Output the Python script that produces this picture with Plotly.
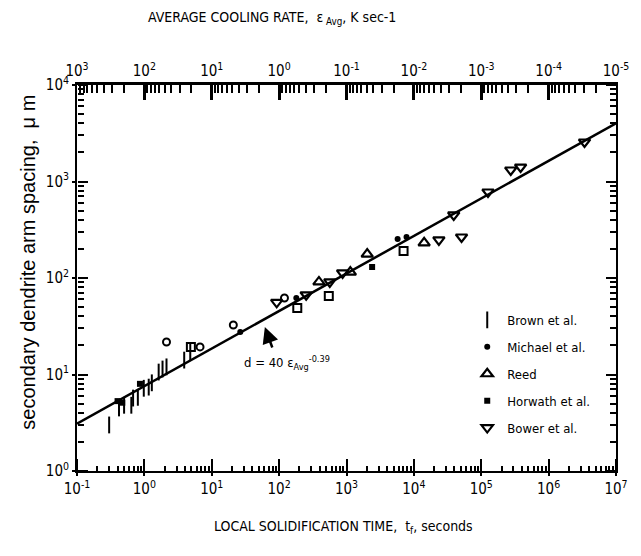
import plotly.graph_objects as go

# ---------------- data ----------------
brown_t = [0.30, 0.42, 0.50, 0.64, 0.68, 0.80, 0.98, 1.16, 1.29, 1.63, 1.86, 2.13, 3.9, 4.8]
brown_d = [3.0, 4.5, 4.8, 4.8, 5.7, 5.8, 7.2, 7.4, 8.2, 10.6, 11.4, 12.0, 14.1, 17.1]

michael_t = [26.5, 180, 5740, 7780]
michael_d = [27.5, 62, 254, 266]
michael_open_t = [2.13, 6.7, 20.9, 120]
michael_open_d = [21.7, 19.3, 32.6, 62]

reed_t = [390, 1140, 2030, 14200]
reed_d = [91, 115, 177, 231]

horwath_t = [0.40, 0.47, 0.86, 2400]
horwath_d = [5.3, 5.1, 8.0, 130]
horwath_open_t = [4.9, 186, 546, 7030]
horwath_open_d = [19.3, 49, 65, 191]

bower_t = [92, 252, 565, 875, 23500, 51000, 39000, 126000, 274000, 384000, 3.41e6]
bower_d = [56, 67, 91, 113, 248, 266, 450, 778, 1315, 1412, 2565]

# fit line d = 40 * eps_avg^-0.39 given against cooling rate eps (top axis)
fit_eps = [1e3, 1e-5]
fit_d = [3.1, 4000]

x_ticks = [1e-1, 1e0, 1e1, 1e2, 1e3, 1e4, 1e5, 1e6, 1e7]
x_ticktext = ["10<sup>-1</sup>", "10<sup>0</sup>", "10<sup>1</sup>", "10<sup>2</sup>", "10<sup>3</sup>",
              "10<sup>4</sup>", "10<sup>5</sup>", "10<sup>6</sup>", "10<sup>7</sup>"]
top_ticks = [1e3, 1e2, 1e1, 1e0, 1e-1, 1e-2, 1e-3, 1e-4, 1e-5]
top_ticktext = ["10<sup>3</sup>", "10<sup>2</sup>", "10<sup>1</sup>", "10<sup>0</sup>", "10<sup>-1</sup>",
                "10<sup>-2</sup>", "10<sup>-3</sup>", "10<sup>-4</sup>", "10<sup>-5</sup>"]
y_ticks = [1e0, 1e1, 1e2, 1e3, 1e4]
y_ticktext = ["10<sup>0</sup>", "10<sup>1</sup>", "10<sup>2</sup>", "10<sup>3</sup>", "10<sup>4</sup>"]

NARROW = "DejaVu Sans Condensed, Liberation Sans Narrow, Liberation Sans, Arial, sans-serif"
SANS = "Liberation Sans, Arial, sans-serif"
BLACK = "black"

fig = go.Figure()

fig.add_trace(go.Scatter(x=fit_eps, y=fit_d, mode="lines", xaxis="x2", yaxis="y",
                         line=dict(color=BLACK, width=2.5),
                         showlegend=False, hoverinfo="skip"))


def add_markers(xs, ys, name, group, marker, show=True, xa="x", ya="y"):
    fig.add_trace(go.Scatter(x=xs, y=ys, mode="markers", name=name, legendgroup=group,
                             showlegend=show, xaxis=xa, yaxis=ya, marker=marker))


add_markers(brown_t, brown_d, "Brown et al.", "g1",
            dict(symbol="line-ns-open", size=12, color=BLACK, line=dict(color=BLACK, width=2)),
            xa="x3")
add_markers(michael_t, michael_d, "Michael et al.", "g2",
            dict(symbol="circle", size=6, color=BLACK))
add_markers(michael_open_t, michael_open_d, "Michael et al.", "g2",
            dict(symbol="circle-open", size=7, color=BLACK, line=dict(color=BLACK, width=2)), False)
add_markers(reed_t, reed_d, "Reed", "g3",
            dict(symbol="triangle-up-open", size=10, color=BLACK, line=dict(color=BLACK, width=2.2)),
            ya="y3")
add_markers(horwath_t, horwath_d, "Horwath et al.", "g4",
            dict(symbol="square", size=6, color=BLACK))
add_markers(horwath_open_t, horwath_open_d, "Horwath et al.", "g4",
            dict(symbol="square-open", size=8, color=BLACK, line=dict(color=BLACK, width=2)), False)
add_markers(bower_t, bower_d, "Bower et al.", "g5",
            dict(symbol="triangle-down-open", size=10, color=BLACK, line=dict(color=BLACK, width=2.2)),
            ya="y2")

tickfont = dict(family=NARROW, size=15, color=BLACK)
common = dict(showgrid=False, zeroline=False, linecolor=BLACK,
              tickcolor=BLACK, tickmode="array", tickfont=tickfont)

fig.update_layout(
    width=641, height=556,
    margin=dict(l=77, r=16, t=85, b=85),
    paper_bgcolor="white", plot_bgcolor="rgba(0,0,0,0)",
    font=dict(family=NARROW, color=BLACK),
    # bottom: local solidification time (labels + axis line)
    xaxis=dict(type="log", range=[-1, 7], side="bottom", anchor="y", domain=[0, 1],
               tickvals=x_ticks, ticktext=x_ticktext, ticks="outside",
               ticklen=3, tickwidth=2, showline=True, linewidth=2,
               **common),
    # inward tick marks along the bottom edge
    xaxis3=dict(type="log", range=[-1, 7], side="top", anchor="free", position=0, domain=[0, 1],
                tickvals=x_ticks, showticklabels=False, ticks="outside", showline=False,
                ticklen=12, tickwidth=2,
                minor=dict(dtick="D1", ticks="outside", ticklen=5, tickwidth=1.5, tickcolor=BLACK),
                **common),
    # top: average cooling rate
    xaxis2=dict(type="log", range=[3, -5], side="top", anchor="y", domain=[0, 1],
                tickvals=top_ticks, ticktext=top_ticktext, ticks="inside",
                ticklen=15, tickwidth=2.5, showline=True, linewidth=3,
                minor=dict(dtick="D1", ticks="inside", ticklen=8, tickwidth=2, tickcolor=BLACK),
                **common),
    # left: spacing (labels + axis lines)
    yaxis=dict(type="log", range=[0, 4], side="left", anchor="x", domain=[0, 1],
               tickvals=y_ticks, ticktext=y_ticktext, ticks="outside",
               ticklen=3, tickwidth=2, showline=True, linewidth=2, mirror=True,
               **common),
    # inward tick marks along the left edge
    yaxis2=dict(type="log", range=[0, 4], side="right", anchor="free", position=0, domain=[0, 1],
                tickvals=y_ticks, showticklabels=False, ticks="outside", showline=False,
                ticklen=10, tickwidth=2,
                minor=dict(dtick="D1", ticks="outside", ticklen=6, tickwidth=1.5, tickcolor=BLACK),
                **common),
    # inward tick marks along the right edge
    yaxis3=dict(type="log", range=[0, 4], side="left", anchor="free", position=1, domain=[0, 1],
                tickvals=y_ticks, showticklabels=False, ticks="outside", showline=False,
                ticklen=10, tickwidth=2,
                minor=dict(dtick="D1", ticks="outside", ticklen=6, tickwidth=1.5, tickcolor=BLACK),
                **common),
    legend=dict(x=0.724, y=0.43, xanchor="left", yanchor="top",
                bgcolor="rgba(0,0,0,0)", borderwidth=0,
                font=dict(family=NARROW, size=13, color=BLACK),
                traceorder="grouped", tracegroupgap=7, itemwidth=30),
    annotations=[
        dict(text="AVERAGE COOLING RATE,  ε<sub> Avg</sub>, K sec-1", xref="paper", yref="paper",
             x=0.361, y=1.174, xanchor="center", yanchor="middle", showarrow=False,
             font=dict(family=NARROW, size=14, color=BLACK)),
        dict(text="LOCAL SOLIDIFICATION TIME,  t<sub>f</sub>, seconds", xref="paper", yref="paper",
             x=0.495, y=-0.145, xanchor="center", yanchor="middle", showarrow=False,
             font=dict(family=NARROW, size=14, color=BLACK)),
        dict(text="secondary dendrite arm spacing,  μ m", xref="paper", yref="paper",
             x=-0.09, y=0.541, xanchor="center", yanchor="middle", textangle=-90,
             showarrow=False, font=dict(family=SANS, size=20, color=BLACK)),
        dict(text="d = 40 ε<sub>Avg</sub><sup>-0.39</sup>", xref="paper", yref="paper",
             x=0.389, y=0.28, xanchor="center", yanchor="middle", showarrow=False,
             font=dict(family=NARROW, size=13, color=BLACK)),
        dict(text="", xref="paper", yref="paper", x=0.3485, y=0.373,
             showarrow=True, ax=8, ay=22, arrowhead=2, arrowsize=1.3, arrowwidth=2.5,
             arrowcolor=BLACK),
    ],
)

fig.write_html("out.html")
